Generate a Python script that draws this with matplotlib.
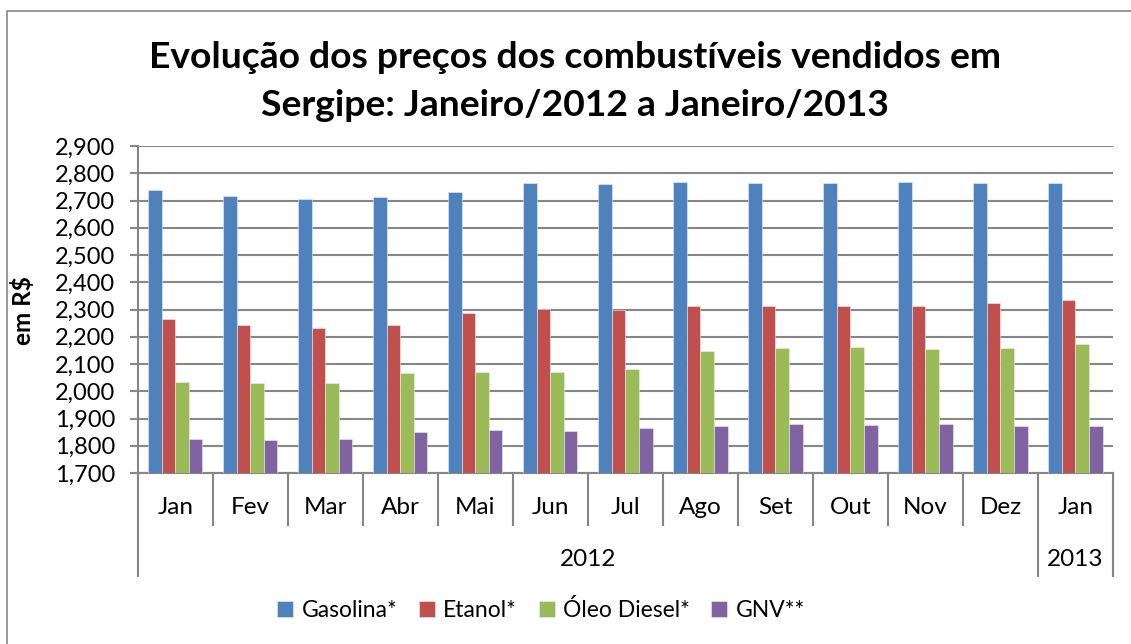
import matplotlib.pyplot as plt
from matplotlib.patches import Rectangle
from matplotlib.ticker import FuncFormatter
import numpy as np

plt.rcParams["font.family"] = ["Lato", "DejaVu Sans"]

meses = ["Jan", "Fev", "Mar", "Abr", "Mai", "Jun", "Jul",
         "Ago", "Set", "Out", "Nov", "Dez", "Jan"]
anos = ["2012", "2013"]

gasolina = [2.737, 2.718, 2.704, 2.714, 2.730, 2.765, 2.759,
            2.769, 2.764, 2.765, 2.768, 2.765, 2.763]
etanol = [2.265, 2.244, 2.232, 2.244, 2.286, 2.302, 2.297,
          2.312, 2.314, 2.313, 2.312, 2.323, 2.334]
diesel = [2.035, 2.029, 2.029, 2.067, 2.071, 2.071, 2.082,
          2.149, 2.159, 2.164, 2.155, 2.157, 2.175]
gnv = [1.825, 1.822, 1.825, 1.852, 1.858, 1.854, 1.866,
       1.874, 1.879, 1.876, 1.880, 1.871, 1.874]

series = [
    ("Gasolina*", gasolina, "#4F81BD"),
    ("Etanol*", etanol, "#C0504D"),
    ("Óleo Diesel*", diesel, "#9BBB59"),
    ("GNV**", gnv, "#8064A2"),
]

W, H = 1131, 644
fig = plt.figure(figsize=(W / 100, H / 100), dpi=100)
ax = fig.add_axes([137.7 / W, 1 - 473 / H, (1113 - 137.7) / W, (473 - 146) / H])

# chart border
fig.patches.append(Rectangle((7 / W, -0.05), 1.2, 1 - 11 / H + 0.05,
                             transform=fig.transFigure, fill=False,
                             edgecolor="#868686", linewidth=1.2))

x = np.arange(len(meses))
bw = 0.181
for i, (nome, vals, cor) in enumerate(series):
    ax.bar(x + (i - 1.5) * bw, vals, bw, color=cor, label=nome,
           edgecolor="#E8EEF7", linewidth=0.4, zorder=3)

ax.set_ylim(1.7, 2.9)
ax.set_xlim(-0.5, len(meses) - 0.5)
ax.set_yticks(np.arange(1.7, 2.901, 0.1))
ax.yaxis.set_major_formatter(FuncFormatter(lambda v, p: f"{v:.3f}".replace(".", ",")))
ax.grid(axis="y", color="#868686", linewidth=1.5, zorder=0)
ax.tick_params(axis="y", length=6, width=1.5, color="#868686", labelsize=17, pad=10)
ax.set_xticks([])
for s in ["top", "right"]:
    ax.spines[s].set_visible(False)
for s in ["left", "bottom"]:
    ax.spines[s].set_color("#868686")
    ax.spines[s].set_linewidth(1.5)

ax.set_ylabel("em R$", fontsize=17.5, fontweight="bold")
ax.yaxis.set_label_coords(-0.105, 0.498)

# multi-level category axis
trans = ax.get_xaxis_transform()
for i, m in enumerate(meses):
    ax.text(i, -0.107, m, transform=trans, ha="center", va="center", fontsize=17.5)
for b in np.arange(-0.5, len(meses), 1.0):
    low = -0.315 if b in (-0.5, 11.5, 12.5) else -0.159
    ax.plot([b, b], [0, low], transform=trans, color="#868686",
            linewidth=1.5, clip_on=False)
ax.text(5.5, -0.266, anos[0], transform=trans, ha="center", va="center", fontsize=17.5)
ax.text(12, -0.266, anos[1], transform=trans, ha="center", va="center", fontsize=17.5)

fig.text(575 / W, 1 - 57 / H, "Evolução dos preços dos combustíveis vendidos em",
         ha="center", va="center", fontsize=26.8, fontweight="bold")
fig.text(575 / W, 1 - 105 / H, "Sergipe: Janeiro/2012 a Janeiro/2013",
         ha="center", va="center", fontsize=26.8, fontweight="bold")

fig.legend(loc="center", bbox_to_anchor=(541 / W, 1 - 610 / H), ncol=4,
           frameon=False, fontsize=16.5, handlelength=0.7, handleheight=0.7,
           handletextpad=0.35, columnspacing=0.95)

fig.savefig("out.png", dpi=100)
